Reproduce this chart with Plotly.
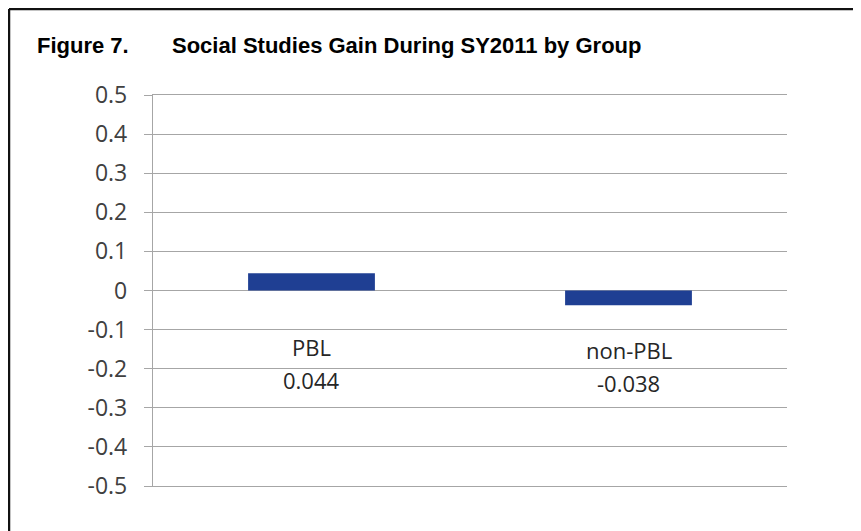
import plotly.graph_objects as go

categories = ["PBL", "non-PBL"]
values = [0.044, -0.038]
value_labels = ["0.044", "-0.038"]
tick_vals = [0.5, 0.4, 0.3, 0.2, 0.1, 0, -0.1, -0.2, -0.3, -0.4, -0.5]
tick_text = ["0.5", "0.4", "0.3", "0.2", "0.1", "0", "-0.1", "-0.2", "-0.3", "-0.4", "-0.5"]

font_family = "Open Sans, Liberation Sans, sans-serif"
title_family = "Liberation Sans, Arial, sans-serif"

# the page places the figure 8px from the window's top-left corner
OFF = 8
W, H = 861 - OFF, 531 - OFF
L, R, T, B = 153 - OFF, 861 - 787, 95 - OFF, 531 - 486
plot_w = W - L - R
plot_h = H - T - B


def px_x(px):
    return (px - OFF - L) / plot_w


def px_y(py):
    return (H - B - (py - OFF)) / plot_h


fig = go.Figure()
fig.add_trace(go.Bar(
    x=categories, y=values,
    marker=dict(color="#1F3F93", line=dict(width=0)),
    width=0.4,
    hoverinfo="skip",
))

# category labels with values, placed below the zero line
label_y = [-0.144, -0.152]
value_y = [-0.229, -0.237]
for c, ly, vy, vl in zip(categories, label_y, value_y, value_labels):
    fig.add_annotation(x=c, y=ly, text=c, showarrow=False,
                       font=dict(size=22, color="#262626", family=font_family),
                       xref="x", yref="y")
    fig.add_annotation(x=c, y=vy, text=vl, showarrow=False,
                       font=dict(size=22, color="#262626", family=font_family),
                       xref="x", yref="y")

title_font = dict(size=22, color="#000000", family=title_family)
fig.add_annotation(x=px_x(35), y=px_y(45), xref="paper", yref="paper", text="<b>Figure 7.</b>",
                   showarrow=False, xanchor="left", yanchor="middle", font=title_font)
fig.add_annotation(x=px_x(170), y=px_y(45), xref="paper", yref="paper",
                   text="<b>Social Studies Gain During SY2011 by Group</b>",
                   showarrow=False, xanchor="left", yanchor="middle", font=title_font)

fig.update_layout(
    width=W, height=H,
    margin=dict(l=L, r=R, t=T, b=B),
    paper_bgcolor="white", plot_bgcolor="white",
    showlegend=False,
    xaxis=dict(showticklabels=False, showgrid=False, zeroline=False,
               showline=True, mirror=True, linecolor="#A6A6A6", linewidth=1.3,
               range=[-0.5, 1.5], fixedrange=True),
    yaxis=dict(range=[-0.5, 0.5], tickvals=tick_vals, ticktext=tick_text,
               showgrid=True, gridcolor="#A6A6A6", gridwidth=1.3,
               zeroline=False,
               showline=True, linecolor="#A6A6A6", linewidth=1.3,
               ticks="outside", ticklen=8, tickcolor="#A6A6A6", tickwidth=1.3,
               ticklabelstandoff=12,
               tickfont=dict(size=23, color="#404040", family=font_family)),
)

# frame: left and top border lines
fig.add_shape(type="line", xref="paper", yref="paper",
              x0=px_x(OFF + 1), x1=px_x(OFF + 1), y0=px_y(OFF + 1), y1=px_y(560),
              line=dict(color="#111111", width=2.5))
fig.add_shape(type="line", xref="paper", yref="paper",
              x0=px_x(OFF + 1), x1=px_x(900), y0=px_y(OFF + 1), y1=px_y(OFF + 1),
              line=dict(color="#111111", width=2.5))

fig.write_html("out.html")
